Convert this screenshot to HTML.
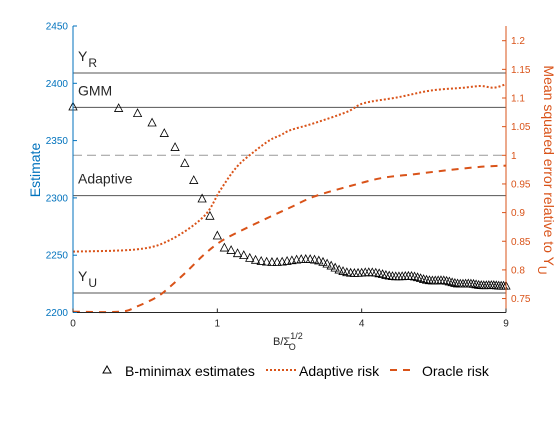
<!DOCTYPE html>
<html><head><meta charset="utf-8"><style>
body{margin:0;background:#fff;}
svg text{font-family:"Liberation Sans",Arial,sans-serif;}
</style></head><body>
<svg width="560" height="420" viewBox="0 0 560 420" xmlns="http://www.w3.org/2000/svg">
<g id="refs"></g>
<g id="curves"></g>
<g id="marks"></g>
<g id="axes"></g>
<g>
  <path d="M103,373 L107,366 L111,373 Z" fill="none" stroke="#000" stroke-width="1"/>
  <text x="125" y="376" font-size="14" fill="#000">B-minimax estimates</text>
  <line x1="266" y1="370" x2="296" y2="370" stroke="#D95319" stroke-width="2" stroke-dasharray="2,2"/>
  <text x="299" y="376" font-size="14" fill="#000">Adaptive risk</text>
  <line x1="390" y1="370" x2="410" y2="370" stroke="#D95319" stroke-width="2" stroke-dasharray="7,6"/>
  <text x="422" y="376" font-size="14" fill="#000">Oracle risk</text>
</g>
</svg>
<script>
const xTicks=[0,1,4,9];
const leftTicks=[2200,2250,2300,2350,2400,2450];
const rightTicks=[0.75,0.8,0.85,0.9,0.95,1,1.05,1.1,1.15,1.2];
const refNames=["Y_R","GMM","Adaptive","Y_U"];
const refValues=[2409,2379,2302,2217];
const estX=[0,0.1,0.2,0.3,0.4,0.5,0.6,0.7,0.8,0.9,1,1.1,1.2,1.3,1.4,1.5,1.6,1.7,1.8,1.9,2,2.1,2.2,2.3,2.4,2.5,2.6,2.7,2.8,2.9,3,3.1,3.2,3.3,3.4,3.5,3.6,3.7,3.8,3.9,4,4.1,4.2,4.3,4.4,4.5,4.6,4.7,4.8,4.9,5,5.1,5.2,5.3,5.4,5.5,5.6,5.7,5.8,5.9,6,6.1,6.2,6.3,6.4,6.5,6.6,6.7,6.8,6.9,7,7.1,7.2,7.3,7.4,7.5,7.6,7.7,7.8,7.9,8,8.1,8.2,8.3,8.4,8.5,8.6,8.7,8.8,8.9,9];
const estY=[2379.6,2378.2,2373.8,2365.6,2356.4,2344.2,2330.2,2315.4,2299.3,2284.2,2267,2256.5,2254.3,2251.6,2249.9,2247.5,2245.8,2244.8,2244.2,2243.9,2243.9,2244.2,2244.8,2245.4,2246,2246.4,2246.5,2246.4,2246,2245.2,2244,2242.5,2240.8,2239,2237.3,2236,2235,2234.5,2234.3,2234.4,2234.6,2234.9,2235,2234.9,2234.6,2234,2233.3,2232.6,2232,2231.6,2231.4,2231.4,2231.5,2231.7,2231.8,2231.7,2231.3,2230.6,2229.8,2229,2228.4,2228,2227.8,2227.8,2227.9,2228,2227.9,2227.5,2226.9,2226.2,2225.6,2225.2,2225,2225,2225.1,2225.2,2225.1,2224.8,2224.4,2224,2223.7,2223.6,2223.6,2223.7,2223.8,2223.7,2223.5,2223.3,2223.2,2223.2,2223.3];
const adaptX=[0,0.2,0.45,0.82,1.04,1.29,1.57,1.87,2.07,2.27,2.79,3.61,4.06,5.05,6.14,7.33,7.99,8.5,9];
const adaptY=[0.832,0.836,0.852,0.893,0.939,0.98,1.006,1.027,1.035,1.044,1.056,1.076,1.091,1.101,1.113,1.118,1.121,1.118,1.124];
const oracleX=[0,0.106,0.195,0.34,0.454,0.62,0.819,1.04,1.29,1.87,2.27,2.79,3.61,4.55,5.59,6.74,7.99,9];
const oracleY=[0.727,0.727,0.736,0.753,0.771,0.797,0.826,0.849,0.865,0.893,0.909,0.928,0.945,0.960,0.967,0.974,0.980,0.982];

const X0=73,X1=506,YT=26,YB=312.5;
function sx(v){return X0+Math.sqrt(v)/3*(X1-X0);}
function syL(v){return YB-(v-2200)/250*(YB-YT);}
function syR(v){return 155.3-(v-1)*573;}
const NS="http://www.w3.org/2000/svg";
function mk(tag,attrs,parent,txt){const e=document.createElementNS(NS,tag);for(const k in attrs)e.setAttribute(k,attrs[k]);if(txt!==undefined)e.textContent=txt;parent.appendChild(e);return e;}
const refs=document.getElementById('refs'),curves=document.getElementById('curves'),marks=document.getElementById('marks'),axes=document.getElementById('axes');

let g=mk('line',{x1:X0,x2:X1,y1:syR(1),y2:syR(1),stroke:'#999',"stroke-width":1,"stroke-dasharray":"9,5"},refs);


refValues.forEach((v,i)=>{
  const y=syL(v);
  const l=mk('line',{x1:X0,x2:X1,y1:y,y2:y,stroke:'#555',"stroke-width":1},refs);
  
  
  const nm=refNames[i];
  const t=mk('text',{x:78,y:y-12,"font-size":14,fill:'#262626'},refs);
  
  
  if(nm.indexOf('_')>=0){
    t.textContent=nm[0];
    mk('tspan',{dy:6,dx:1,"font-size":12},t,nm.split('_')[1]);
  } else t.textContent=nm;
});

function pathOf(xs,ys,fy){
  const P=xs.map((x,i)=>[sx(x),fy(ys[i])]);
  let d='M'+P[0][0].toFixed(1)+','+P[0][1].toFixed(1);
  for(let i=0;i<P.length-1;i++){
    const p0=P[Math.max(0,i-1)],p1=P[i],p2=P[i+1],p3=P[Math.min(P.length-1,i+2)];
    const c1=[p1[0]+(p2[0]-p0[0])/6,p1[1]+(p2[1]-p0[1])/6];
    const c2=[p2[0]-(p3[0]-p1[0])/6,p2[1]-(p3[1]-p1[1])/6];
    d+=` C${c1[0].toFixed(1)},${c1[1].toFixed(1)} ${c2[0].toFixed(1)},${c2[1].toFixed(1)} ${p2[0].toFixed(1)},${p2[1].toFixed(1)}`;
  }
  return d;
}
let p=mk('path',{d:pathOf(oracleX,oracleY,syR),fill:'none',stroke:'#D95319',"stroke-width":2,"stroke-dasharray":"7,6"},curves);


p=mk('path',{d:pathOf(adaptX,adaptY,syR),fill:'none',stroke:'#D95319',"stroke-width":2,"stroke-dasharray":"2,2"},curves);



estX.forEach((x,i)=>{
  const cx=sx(x),cy=syL(estY[i]);
  const t=mk('path',{d:`M${cx-4},${cy+3.3} L${cx},${cy-4.3} L${cx+4},${cy+3.3} Z`,fill:'none',stroke:'#000',"stroke-width":0.8},marks);
  
  
});

let a=mk('line',{x1:X0,x2:X0,y1:YT,y2:YB,stroke:'#0072BD',"stroke-width":1},axes);


a=mk('line',{x1:X1,x2:X1,y1:YT,y2:YB,stroke:'#D95319',"stroke-width":1},axes);


a=mk('line',{x1:X0,x2:X1,y1:YB,y2:YB,stroke:'#262626',"stroke-width":1},axes);


leftTicks.forEach(v=>{
  const y=syL(v);
  mk('line',{x1:X0,x2:X0+4,y1:y,y2:y,stroke:'#0072BD'},axes);
  const t=mk('text',{x:X0-5,y:y+3.5,"font-size":10,fill:'#0072BD',"text-anchor":"end"},axes,String(v));
  
  
});
rightTicks.forEach(v=>{
  const y=syR(v);
  mk('line',{x1:X1-4,x2:X1,y1:y,y2:y,stroke:'#D95319'},axes);
  const t=mk('text',{x:X1+5,y:y+3.5,"font-size":10,fill:'#D95319'},axes,String(v));
  
  
});
xTicks.forEach(v=>{
  const x=sx(v);
  mk('line',{x1:x,x2:x,y1:YB,y2:YB-4,stroke:'#262626'},axes);
  const t=mk('text',{x:x,y:YB+14,"font-size":10,fill:'#262626',"text-anchor":"middle"},axes,String(v));
  
  
});
let xt=mk('text',{x:273,y:345,"font-size":11,fill:'#262626'},axes,'B/Σ');


mk('tspan',{dy:-6,"font-size":9},xt,'1/2');
mk('tspan',{dx:-14,dy:11,"font-size":9},xt,'O');
let yl=mk('text',{x:0,y:0,"font-size":14,fill:'#0072BD',"text-anchor":"middle",transform:"translate(40,170) rotate(-90)"},axes,'Estimate');


let yr=mk('text',{x:0,y:0,"font-size":14,fill:'#D95319',"text-anchor":"middle",transform:"translate(544,170) rotate(90)"},axes,'Mean squared error relative to Y');


mk('tspan',{dy:6,"font-size":12},yr,'U');
</script>
</body></html>
